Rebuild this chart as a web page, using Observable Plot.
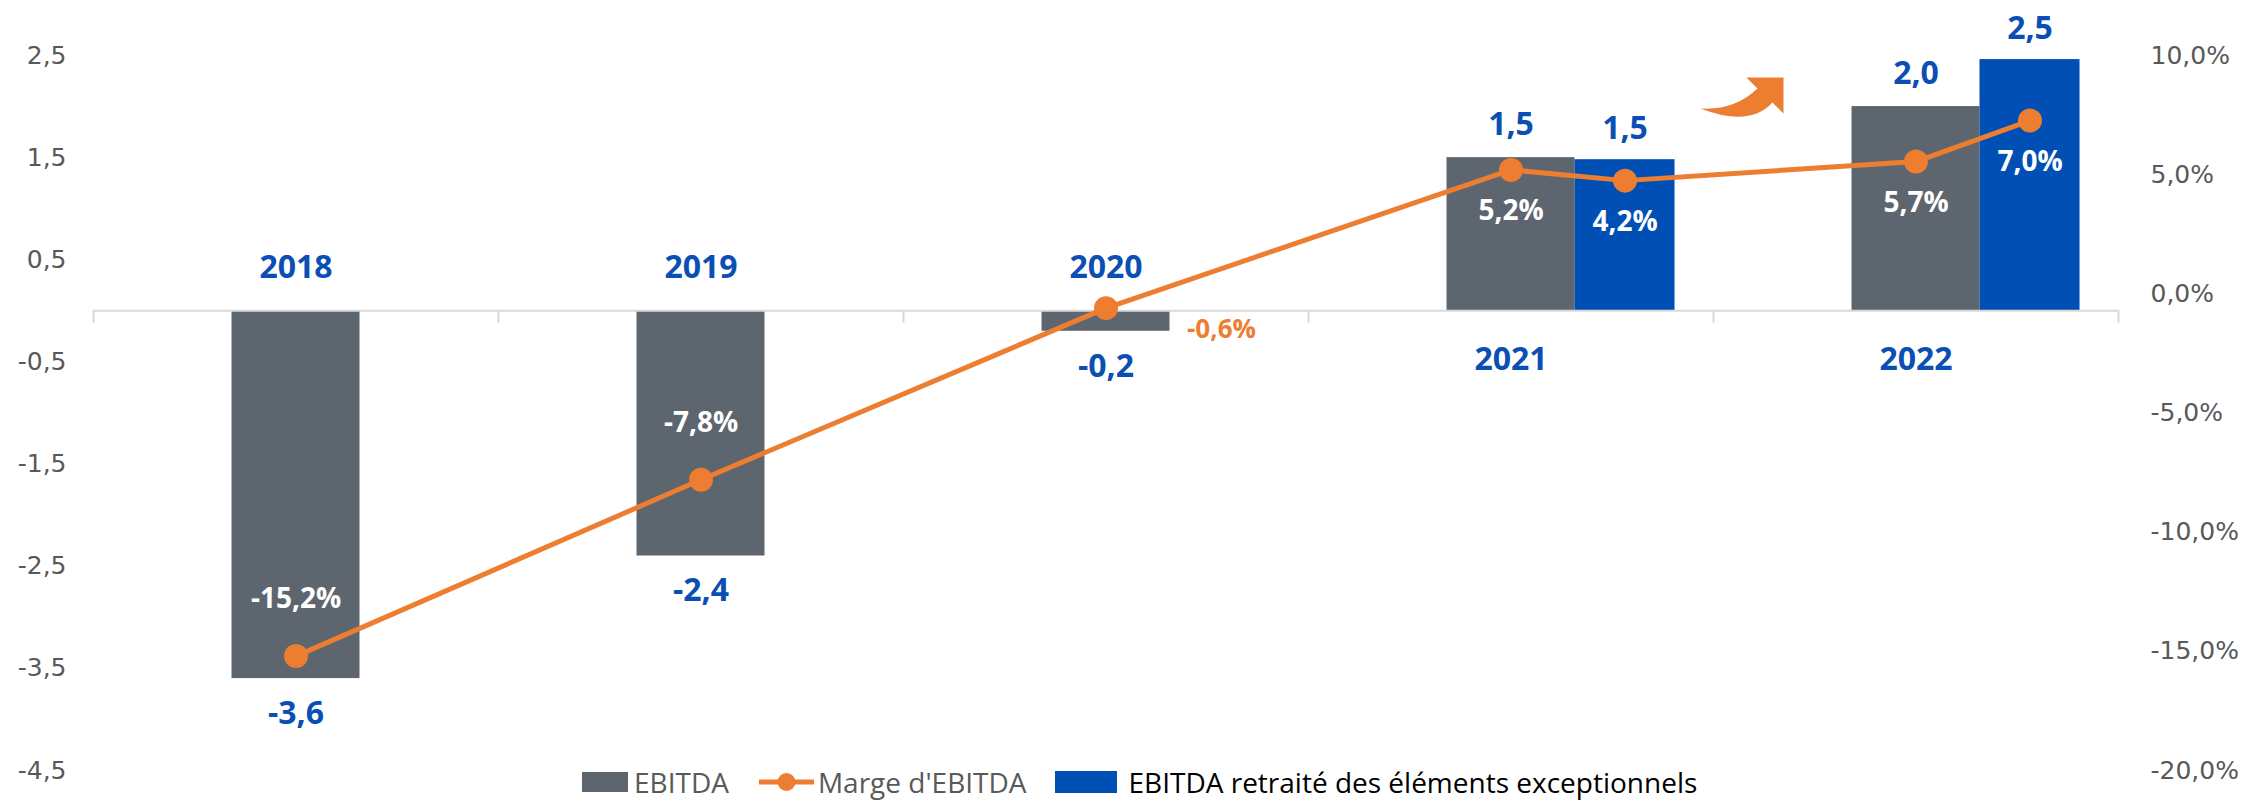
<!DOCTYPE html>
<html><head><meta charset="utf-8">
<script src="https://cdn.jsdelivr.net/npm/d3@7"></script>
<script src="https://cdn.jsdelivr.net/npm/@observablehq/plot@0.6"></script>
<style>
html,body{margin:0;padding:0;background:#fff;}
#wrap{position:relative;width:2267px;height:800px;overflow:hidden;background:#fff;}
#legend{position:absolute;left:582px;top:768px;height:28px;display:flex;align-items:center;font-family:"Open Sans";font-size:28px;color:#595959;white-space:nowrap;}
#legend .sw{display:inline-block;}
</style></head>
<body><div id="wrap"><div id="chart"></div><div id="legend"></div></div>
<script>
// ---- data ----
const years = ["2018","2019","2020","2021","2022"];
const ebitda = [-3.6, -2.4, -0.2, 1.5, 2.0];
const ebitdaRetraite = [null, null, null, 1.48, 2.46];
const marge = [-15.2, -7.8, -0.6, 5.2, 5.55];
const margeLabels = ["-15,2%", "-7,8%", "-0,6%", "5,2%", "5,7%"];
const margeRetraite = [null, null, null, 4.75, 7.27];
const margeRetraiteLabels = [null, null, null, "4,2%", "7,0%"];
const leftTicks = [2.5, 1.5, 0.5, -0.5, -1.5, -2.5, -3.5, -4.5];
const rightTicks = [10, 5, 0, -5, -10, -15, -20];
const legendItems = ["EBITDA", "Marge d'EBITDA", "EBITDA retraité des éléments exceptionnels"];
const outsideMarginLabel = ["2020"];
const trendArrow = [{x: 3.5, y: 2.0}]; // between 2021 and 2022

// ---- styles ----
const GRAY = "#5D666F", BLUE = "#004FB4", ORANGE = "#ED7D31", LABEL_BLUE = "#0A4FB3", AXIS = "#D9D9D9";
const Y_DOMAIN = [-4.5, 2.5], PCT_DOMAIN = [-20, 10];
const GRAY_W = 0.316, BLUE_W = 0.247;
const pctToY = p => Y_DOMAIN[0] + (p - PCT_DOMAIN[0]) * (Y_DOMAIN[1] - Y_DOMAIN[0]) / (PCT_DOMAIN[1] - PCT_DOMAIN[0]);
const yToPct = y => PCT_DOMAIN[0] + (y - Y_DOMAIN[0]) * (PCT_DOMAIN[1] - PCT_DOMAIN[0]) / (Y_DOMAIN[1] - Y_DOMAIN[0]);
const fmt1 = v => ((Math.round(v * 10) / 10) + 0).toFixed(1).replace(".", ",");

const rows = years.map((year, i) => ({year, i, ebitda: ebitda[i], retraite: ebitdaRetraite[i]}));
const blueRows = rows.filter(d => d.retraite != null);
const marginPts = years.flatMap((year, i) => {
  const pts = [{year, x: i, pct: marge[i], label: margeLabels[i]}];
  if (margeRetraite[i] != null) pts.push({year, x: i + GRAY_W / 2 + BLUE_W / 2, pct: margeRetraite[i], label: margeRetraiteLabels[i]});
  return pts;
});

const curvedArrow = {
  draw(ctx) {
    const ox = -14, oy = -29;
    ctx.moveTo(ox + 47, oy + 0);
    ctx.lineTo(ox + 84, oy + 0);
    ctx.lineTo(ox + 84, oy + 36);
    ctx.lineTo(ox + 73, oy + 25);
    ctx.quadraticCurveTo(ox + 50, oy + 50, ox + 1, oy + 31);
    ctx.quadraticCurveTo(ox + 35, oy + 33, ox + 58, oy + 11);
    ctx.closePath();
  }
};

const bold = {fontFamily: "Open Sans", fontWeight: "bold"};

const chart = Plot.plot({
  width: 2267, height: 800,
  marginLeft: 93, marginRight: 149, marginTop: 55, marginBottom: 30,
  x: {type: "linear", domain: [-0.5, years.length - 0.5], axis: null},
  y: {domain: Y_DOMAIN, axis: null},
  style: {fontFamily: "DejaVu Sans", fontSize: "25px", color: "#595959", background: "white", overflow: "visible"},
  marks: [
    Plot.axisY(leftTicks, {anchor: "left", tickSize: 0, tickPadding: 27, tickFormat: fmt1, label: null}),
    Plot.axisY(rightTicks.map(pctToY), {anchor: "right", tickSize: 0, tickPadding: 32, tickFormat: d => fmt1(yToPct(d)) + "%", label: null}),
    Plot.rect(rows, {x1: d => d.i - GRAY_W / 2, x2: d => d.i + GRAY_W / 2, y1: 0, y2: "ebitda", fill: GRAY}),
    Plot.rect(blueRows, {x1: d => d.i + GRAY_W / 2, x2: d => d.i + GRAY_W / 2 + BLUE_W, y1: 0, y2: "retraite", fill: BLUE}),
    Plot.ruleY([0], {stroke: AXIS, strokeWidth: 2}),
    Plot.ruleX(d3.range(years.length + 1).map(k => k - 0.5), {y1: 0, y2: -0.12, stroke: AXIS, strokeWidth: 2}),
    Plot.line(marginPts, {x: "x", y: d => pctToY(d.pct), stroke: ORANGE, strokeWidth: 5}),
    Plot.dot(marginPts, {x: "x", y: d => pctToY(d.pct), r: 12, fill: ORANGE}),
    Plot.dot(trendArrow, {x: "x", y: "y", symbol: curvedArrow, fill: ORANGE, stroke: null}),
    // year labels
    Plot.text(rows.filter(d => d.ebitda < 0), {x: "i", y: 0, text: "year", dy: -43, fill: LABEL_BLUE, fontSize: 32, ...bold}),
    Plot.text(rows.filter(d => d.ebitda >= 0), {x: "i", y: 0, text: "year", dy: 49, fill: LABEL_BLUE, fontSize: 32, ...bold}),
    // EBITDA value labels
    Plot.text(rows.filter(d => d.ebitda < 0), {x: "i", y: "ebitda", text: d => fmt1(d.ebitda), dy: 35, fill: LABEL_BLUE, fontSize: 32, ...bold}),
    Plot.text(rows.filter(d => d.ebitda >= 0), {x: "i", y: "ebitda", text: d => fmt1(d.ebitda), dy: -33, fill: LABEL_BLUE, fontSize: 32, ...bold}),
    Plot.text(blueRows, {x: d => d.i + GRAY_W / 2 + BLUE_W / 2, y: "retraite", text: d => fmt1(d.retraite), dy: -31, fill: LABEL_BLUE, fontSize: 32, ...bold}),
    // margin labels
    Plot.text(marginPts.filter(d => d.pct < 0 && !outsideMarginLabel.includes(d.year)), {x: "x", y: d => pctToY(d.pct), text: "label", dy: -57, fill: "white", fontSize: 28, ...bold}),
    Plot.text(marginPts.filter(d => d.pct >= 0), {x: "x", y: d => pctToY(d.pct), text: "label", dy: 41, fill: "white", fontSize: 28, ...bold}),
    Plot.text(marginPts.filter(d => outsideMarginLabel.includes(d.year)), {x: "x", y: d => pctToY(d.pct), text: "label", dx: 81, dy: 22, textAnchor: "start", fill: ORANGE, fontSize: 26, ...bold})
  ]
});
document.getElementById("chart").appendChild(chart);

// ---- legend ----
const legend = document.getElementById("legend");
const swatches = [
  `<span class="sw" style="width:46px;height:20px;background:${GRAY};margin-right:6px"></span>`,
  `<svg width="55" height="22" style="margin-right:4px"><line x1="0" x2="55" y1="11" y2="11" stroke="${ORANGE}" stroke-width="5"/><circle cx="27.5" cy="11" r="9" fill="${ORANGE}"/></svg>`,
  `<span class="sw" style="width:62px;height:22px;background:${BLUE};margin-right:12px"></span>`
];
const gaps = [30, 28, 0];
const colors = ["#595959", "#595959", "#000000"];
legendItems.forEach((t, k) => {
  legend.insertAdjacentHTML("beforeend", swatches[k] + `<span style="color:${colors[k]};margin-right:${gaps[k]}px">${t}</span>`);
});
</script>
</body></html>
